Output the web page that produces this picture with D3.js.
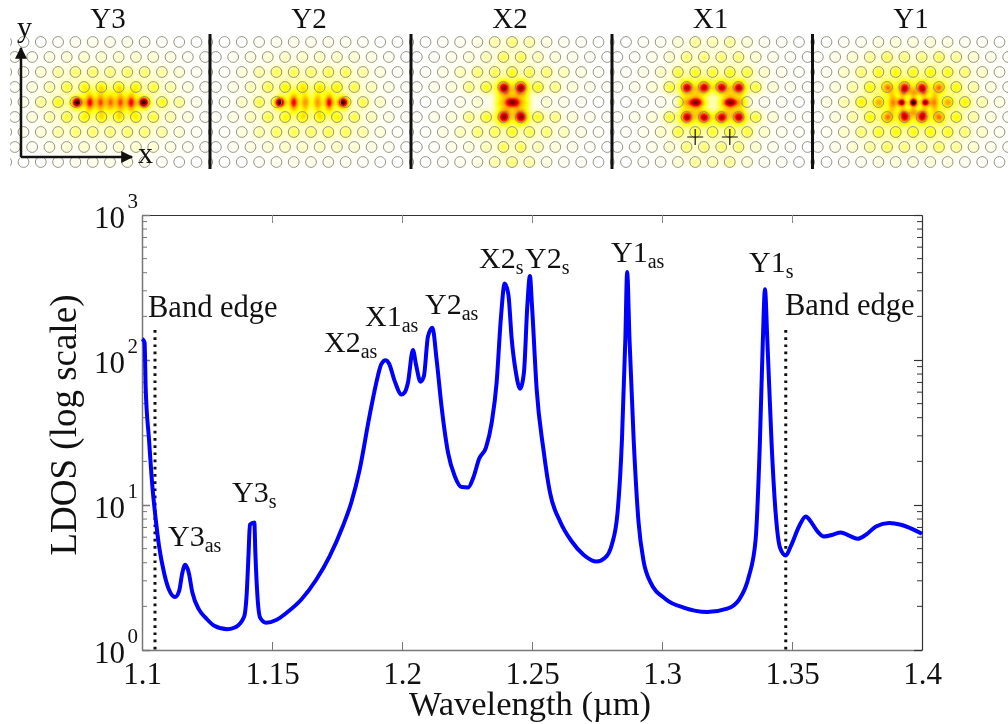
<!DOCTYPE html>
<html>
<head>
<meta charset="utf-8">
<script src="https://cdn.jsdelivr.net/npm/d3@7"></script>
<style>
  html, body { margin: 0; padding: 0; background: #fff; }
  #wrap { position: relative; width: 1008px; height: 724px; overflow: hidden; }
  canvas, svg { position: absolute; left: 0; top: 0; }
  text { font-family: "Liberation Serif", "Times New Roman", serif; fill: #111; }
</style>
</head>
<body>
<div id="wrap"></div>
<script>
// LDOS spectrum
const wavelength = [1.1001, 1.1010, 1.1014, 1.1027, 1.1040, 1.1053, 1.1066, 1.1085, 1.1104, 1.1127,
  1.1143, 1.1155, 1.1166, 1.1179, 1.1194, 1.1220, 1.1246, 1.1278, 1.1329, 1.1361,
  1.1393, 1.1402, 1.1410, 1.1415, 1.1432, 1.1436, 1.1445, 1.1455, 1.1477, 1.1516,
  1.1555, 1.1612, 1.1670, 1.1721, 1.1772, 1.1805, 1.1837, 1.1875, 1.1907, 1.1920,
  1.1937, 1.1950, 1.1972, 1.1998, 1.2010, 1.2023, 1.2042, 1.2055, 1.2071, 1.2084,
  1.2100, 1.2117, 1.2133, 1.2152, 1.2177, 1.2203, 1.2229, 1.2254, 1.2274, 1.2297,
  1.2323, 1.2345, 1.2364, 1.2380, 1.2395, 1.2409, 1.2422, 1.2438, 1.2454, 1.2469,
  1.2482, 1.2492, 1.2500, 1.2518, 1.2544, 1.2569, 1.2608, 1.2653, 1.2698, 1.2749,
  1.2781, 1.2807, 1.2829, 1.2846, 1.2859, 1.2866, 1.2875, 1.2891, 1.2910, 1.2929,
  1.2955, 1.3013, 1.3083, 1.3174, 1.3251, 1.3296, 1.3334, 1.3360, 1.3376, 1.3388,
  1.3396, 1.3405, 1.3422, 1.3437, 1.3454, 1.3476, 1.3495, 1.3527, 1.3553, 1.3572,
  1.3598, 1.3623, 1.3656, 1.3688, 1.3720, 1.3752, 1.3784, 1.3823, 1.3874, 1.3919, 1.4000];
const ldos = [140, 132, 65.7, 28.3, 13.4, 7.92, 5.15, 3.40, 2.60, 2.32,
  2.56, 3.40, 3.87, 3.46, 2.48, 1.89, 1.66, 1.47, 1.39, 1.44,
  1.70, 2.33, 4.68, 7.31, 7.58, 4.68, 2.22, 1.66, 1.54, 1.61,
  1.80, 2.22, 3.05, 4.41, 7.11, 10.4, 17.5, 41.0, 77.4, 93.3,
  99.8, 94.7, 71.5, 57.8, 59.7, 70.0, 117, 90.8, 70.8, 77.0,
  146, 167, 101, 48.0, 23.0, 15.8, 13.3, 13.2, 15.4, 20.9,
  24.9, 37.0, 70.0, 191, 337, 284, 139, 82.1, 63.4, 82.1,
  236, 380, 236, 62.6, 24.1, 12.2, 7.70, 5.60, 4.54, 4.07,
  4.32, 5.32, 8.85, 28.3, 139, 405, 139, 28.3, 7.55, 4.12,
  2.95, 2.25, 1.96, 1.83, 1.93, 2.22, 3.21, 5.75, 25.4, 139,
  307, 139, 25.4, 8.85, 5.07, 4.48, 5.18, 7.11, 8.34, 7.70,
  6.57, 6.07, 6.23, 6.47, 6.14, 5.85, 6.23, 7.11, 7.51, 7.31, 6.33];

const xTicks = [1.1, 1.15, 1.2, 1.25, 1.3, 1.35, 1.4];
const xTickLabels = ["1.1", "1.15", "1.2", "1.25", "1.3", "1.35", "1.4"];
const yDecades = [1, 10, 100, 1000];
const yExponents = ["0", "1", "2", "3"];
const bandEdges = [1.105, 1.3476];

// peak labels: main part, subscript
const peakNames = ["Y3", "Y3", "X2", "X1", "Y2", "X2", "Y2", "Y1", "Y1"];
const peakSubs = ["as", "s", "as", "as", "as", "s", "s", "as", "s"];

// mode maps. Each row is intensity in the holes, from the centre outwards,
// rows going away from the cavity row (the picture is about mirror symmetric)
const panelNames = ["Y3", "Y2", "X2", "X1", "Y1"];
const heatY3 = [[0, 0, 0, .30, .15, .03], [.33, .32, .26, .12, .05, .01], [.18, .20, .19, .13, .06, .02], [.07, .07, .06, .04, .02, .01], [.03, .03, .02, .01, 0, 0]];
const heatY2 = [[0, 0, 0, .24, .08, .02], [.33, .32, .24, .10, .04, .01], [.20, .23, .22, .13, .05, .01], [.08, .08, .06, .04, .02, 0], [.03, .03, .02, .01, 0, 0]];
const heatX2 = [[0, 0, .06, .03, .01, 0], [.78, .28, .17, .06, .03, .01], [.28, .22, .19, .10, .04, .01], [.22, .10, .05, .03, .01, 0], [.18, .12, .04, .02, .01, 0]];
const heatX1 = [[0, 0, .05, .02, .01, 0], [.76, .76, .25, .06, .03, .01], [.26, .28, .25, .08, .03, .01], [.18, .18, .07, .03, .01, 0], [.11, .14, .06, .02, .01, 0]];
const heatY1 = [[0, 0, .50, .34, .12, .04], [.72, .55, .32, .13, .05, .01], [.30, .32, .29, .19, .08, .02], [.17, .21, .14, .07, .03, .01], [.05, .05, .04, .02, .01, 0]];
const panelHeat = [heatY3, heatY2, heatX2, heatX1, heatY1];

// extra lobes in the cavity: offset in lattice periods, offset in rows, intensity, lobe kind
const lobesY3 = [[-1.93, 0, .98, "o"], [1.93, 0, .98, "o"], [-1.19, 0, .70, "v"], [1.19, 0, .70, "v"], [-.58, 0, .62, "v"], [.58, 0, .62, "v"], [0, 0, .58, "v"]];
const lobesY2 = [[-1.83, 0, .95, "o"], [1.83, 0, .95, "o"], [-1.02, 0, .72, "v"], [1.02, 0, .72, "v"], [-.35, 0, .55, "v"], [.35, 0, .55, "v"]];
const lobesX2 = [[0, 0, .78, "h"], [-.8, 0, .20, "v"], [.8, 0, .20, "v"], [-.3, -.5, .20, "o"], [.3, -.5, .20, "o"], [-.3, .5, .20, "o"], [.3, .5, .20, "o"]];
const lobesX1 = [[-1, 0, .78, "h"], [1, 0, .78, "h"], [-1, -.5, .20, "o"], [1, -.5, .20, "o"], [-1, .5, .20, "o"], [1, .5, .20, "o"], [-1.7, 0, .22, "v"], [1.7, 0, .22, "v"]];
const lobesY1 = [[0, 0, 1, "s"], [-.67, 0, .82, "s"], [.67, 0, .82, "s"], [-1.2, 0, .55, "v"], [1.2, 0, .55, "v"], [0, -.6, .34, "s"], [0, .6, .34, "s"], [-.6, -.6, .24, "s"], [.6, -.6, .24, "s"], [-.6, .6, .24, "s"], [.6, .6, .24, "s"]];
const panelLobes = [lobesY3, lobesY2, lobesX2, lobesX1, lobesY1];

const heatStops = [0, .33, .55, .72, .88, 1];
const heatColors = ["#ffffff", "#ffff00", "#ffa000", "#ff0000", "#800000", "#000000"];

const width = 1008, height = 724;
const margin = { top: 215, right: 86, bottom: 74, left: 142 };
const plotW = width - margin.left - margin.right;
const plotH = height - margin.top - margin.bottom;

const wrap = d3.select("#wrap");
const canvas = wrap.append("canvas").attr("width", width).attr("height", height);
const svg = wrap.append("svg").attr("width", width).attr("height", height);

/* ---------- mode maps on top ---------- */
const pitch = 17.3, rowGap = 15, stripTop = 36, stripBottom = 168, rowY = 102;
const panelCx = [110, 311, 512, 712.5, 913];
const panelHalf = 100.5;
const sigma = { o: [4.4, 4.4], s: [3.2, 3.2], v: [3.7, 7], h: [7, 3.8] };
const heatScale = d3.scaleLinear().domain(heatStops).range(heatColors).clamp(true);

function panelSites(rows) {
    let sites = [];
    rows.forEach((vals, r) => {
        vals.forEach((v, k) => {
            let j = r % 2 ? k + 0.5 : k;
            [-1, 1].forEach(sx => {
                [-1, 1].forEach(sy => {
                    if ((sx < 0 && j === 0) || (sy < 0 && r === 0)) return;
                    sites.push({ dx: sx * j * pitch, dy: sy * r * rowGap, a: v });
                });
            });
        });
    });
    return sites;
}

const ctx = canvas.node().getContext("2d");
const img = ctx.createImageData(width, height);
panelCx.forEach((cx, p) => {
    const sites = panelSites(panelHeat[p]).filter(d => d.a > 0);
    const lobes = panelLobes[p].map(d => ({ dx: d[0] * pitch, dy: d[1] * rowGap, a: d[2], s: sigma[d[3]] }));
    const x0 = Math.max(10, Math.round(cx - panelHalf));
    const x1 = Math.min(width, Math.round(cx + panelHalf));
    for (let py = stripTop; py < stripBottom; py++) {
        for (let px = x0; px < x1; px++) {
            let f = 0;
            const ux = px - cx, uy = py - rowY;
            sites.forEach(s => {
                const d2 = (ux - s.dx) * (ux - s.dx) + (uy - s.dy) * (uy - s.dy);
                // stronger holes spread a bit wider
                const s2 = 16 + 12 * s.a;
                f += s.a * (Math.exp(-d2 / (2 * s2)) + 0.035 * Math.exp(-d2 / 170));
            });
            lobes.forEach(l => {
                const ex = (ux - l.dx) / l.s[0], ey = (uy - l.dy) / l.s[1];
                f += l.a * Math.exp(-(ex * ex + ey * ey) / 2);
            });
            const c = d3.rgb(heatScale(Math.min(f, 1)));
            const i = (py * width + px) * 4;
            img.data[i] = c.r; img.data[i + 1] = c.g; img.data[i + 2] = c.b; img.data[i + 3] = 255;
        }
    }
});
ctx.putImageData(img, 0, 0);

// air holes, cut at the panel edges
const defs = svg.append("defs");
const strip = svg.append("g");
panelCx.forEach((cx, p) => {
    defs.append("clipPath").attr("id", "panel" + p).append("rect")
        .attr("x", Math.max(10, cx - panelHalf)).attr("y", stripTop)
        .attr("width", 201).attr("height", stripBottom - stripTop);
    const g = strip.append("g").attr("clip-path", `url(#panel${p})`);
    d3.range(-4, 5).forEach(r => {
        d3.range(-6, 7).forEach(k => {
            const j = Math.abs(r) % 2 ? k + 0.5 : k;
            if (r === 0 && Math.abs(j) < 2) return; // cavity row
            g.append("circle")
                .attr("cx", cx + j * pitch).attr("cy", rowY + r * rowGap).attr("r", 5.4)
                .attr("fill", "none").attr("stroke", "#8a8a7a").attr("stroke-width", 0.9);
        });
    });
    svg.append("text").attr("x", cx - 2).attr("y", 28).attr("text-anchor", "middle")
        .attr("font-size", 29).text(panelNames[p]);
});

// dividers between the panels
svg.selectAll(".divider").data(panelCx.slice(0, 4)).join("line")
    .attr("class", "divider")
    .attr("x1", d => d + 100).attr("x2", d => d + 100)
    .attr("y1", 34).attr("y2", 169)
    .attr("stroke", "#111").attr("stroke-width", 3);

// source marks under X1
[-1, 1].forEach(s => {
    const cx = panelCx[3] + s * pitch, cy = 137;
    svg.append("path").attr("d", `M${cx - 8},${cy}H${cx + 8}M${cx},${cy - 8}V${cy + 8}`)
        .attr("stroke", "#111").attr("stroke-width", 1.2).attr("fill", "none");
});

// xy arrows
defs.append("marker").attr("id", "arrow").attr("viewBox", "0 0 10 10")
    .attr("refX", 9).attr("refY", 5)
    .attr("markerWidth", 13).attr("markerHeight", 12).attr("markerUnits", "userSpaceOnUse")
    .attr("orient", "auto")
    .append("path").attr("d", "M0,0L10,5L0,10Z").attr("fill", "#111");
svg.append("path").attr("d", "M21,157H132").attr("stroke", "#111").attr("stroke-width", 2.5).attr("marker-end", "url(#arrow)");
svg.append("path").attr("d", "M21,157V48").attr("stroke", "#111").attr("stroke-width", 2.5).attr("marker-end", "url(#arrow)");
svg.append("text").attr("x", 138).attr("y", 163).attr("font-size", 30).text("x");
svg.append("text").attr("x", 17).attr("y", 37).attr("font-size", 30).text("y");

/* ---------- spectrum ---------- */
const x = d3.scaleLinear().domain([1.1, 1.4]).range([0, plotW]);
const y = d3.scaleLog().domain([1, 1000]).range([plotH, 0]);

const chart = svg.append("g").attr("transform", `translate(${margin.left},${margin.top})`);

const xAxis = d3.axisBottom(x).tickValues(xTicks).tickSize(-8).tickSizeOuter(0)
    .tickFormat((d, i) => xTickLabels[i]);
const xAxisTop = d3.axisTop(x).tickValues(xTicks).tickSize(-8).tickSizeOuter(0).tickFormat("");
const yAxis = d3.axisLeft(y).tickValues(yDecades).tickSize(-8).tickSizeOuter(0).tickFormat(() => "10");
const yAxisRight = d3.axisRight(y).tickValues(yDecades).tickSize(-8).tickSizeOuter(0).tickFormat("");
const yMinor = y.ticks().filter(d => !yDecades.includes(d));

const gx = chart.append("g").attr("transform", `translate(0,${plotH})`).call(xAxis);
const gxTop = chart.append("g").call(xAxisTop);
const gy = chart.append("g").call(yAxis);
const gyRight = chart.append("g").attr("transform", `translate(${plotW},0)`).call(yAxisRight);

[gx, gy].forEach(g => g.selectAll("path,line").attr("stroke", "#777").attr("stroke-width", 1.5));
[gxTop, gyRight].forEach(g => g.selectAll("path,line").attr("stroke", "#333").attr("stroke-width", 1.2));
gx.selectAll("line").attr("stroke-width", 1);
gxTop.selectAll("line").attr("stroke", "#888").attr("stroke-width", 1);

gx.selectAll("text").attr("font-size", 31).attr("y", 12).attr("dy", 22).attr("fill", "#111")
    .style("font-family", '"Liberation Serif", serif');
gy.selectAll("text").attr("font-size", 31).attr("x", -17).attr("y", 12).attr("dy", 0)
    .attr("fill", "#111").style("font-family", '"Liberation Serif", serif');
gy.selectAll(".tick").each(function (d, i) {
    d3.select(this).append("text")
        .attr("x", -4).attr("y", -8).attr("text-anchor", "end")
        .attr("font-size", 21).text(yExponents[i]);
});

// minor ticks on both sides
[0, plotW].forEach(px => {
    chart.selectAll(null).data(yMinor).join("line")
        .attr("x1", px).attr("x2", px === 0 ? 5 : px - 5)
        .attr("y1", d => y(d)).attr("y2", d => y(d))
        .attr("stroke", px === 0 ? "#777" : "#333").attr("stroke-width", 1);
});

// band edge markers
chart.selectAll(".edge").data(bandEdges).join("line")
    .attr("class", "edge")
    .attr("x1", d => x(d)).attr("x2", d => x(d))
    .attr("y1", 115).attr("y2", plotH + 2)
    .attr("stroke", "#111").attr("stroke-width", 3).attr("stroke-dasharray", "2.7 4.5");

const line = d3.line().x((d, i) => x(wavelength[i])).y(d => y(d)).curve(d3.curveMonotoneX);
chart.append("path").datum(ldos)
    .attr("d", line)
    .attr("fill", "none").attr("stroke", "#0000ff").attr("stroke-width", 4)
    .attr("stroke-linejoin", "round");

// peak labels
const peakLabelX = [168, 232, 324, 365, 425, 479, 525, 611, 749];
const peakLabelY = [546, 502, 352, 326, 314, 268, 268, 262, 272];
peakNames.forEach((n, i) => {
    const t = svg.append("text").attr("x", peakLabelX[i]).attr("y", peakLabelY[i]).attr("font-size", 30);
    t.append("tspan").text(n);
    t.append("tspan").attr("dy", 6).attr("font-size", 20).text(peakSubs[i]);
});
svg.append("text").attr("x", 148).attr("y", 317).attr("font-size", 30.5).text("Band edge");
svg.append("text").attr("x", 785).attr("y", 315).attr("font-size", 30.5).text("Band edge");

// axis titles
svg.append("text").attr("x", 530).attr("y", 715).attr("text-anchor", "middle")
    .attr("font-size", 34.5).text("Wavelength (µm)");
svg.append("text").attr("transform", "translate(76,425) rotate(-90)").attr("text-anchor", "middle")
    .attr("font-size", 37).text("LDOS (log scale)");
</script>
</body>
</html>
